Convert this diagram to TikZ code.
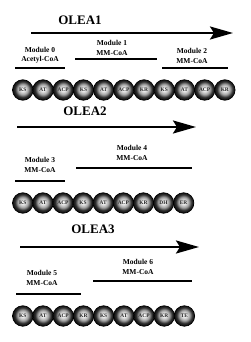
\documentclass[tikz,border=0pt]{standalone}
\usepackage{fontspec}
\setmainfont{Liberation Serif}
\usetikzlibrary{arrows.meta, positioning}

\pgfdeclareradialshading{pkssphere}{\pgfpoint{0bp}{2bp}}{%
  color(0bp)=(white); color(6bp)=(gray!25); color(13bp)=(gray!75);
  color(19bp)=(black!80); color(25bp)=(black!95); color(100bp)=(black)}

\tikzset{
  pksball/.style={circle, shading=pkssphere, draw=black, line width=0.7pt,
    minimum size=20.5pt, inner sep=0pt, text=black!85,
    font=\bfseries\fontsize{5.4}{6}\selectfont},
  protein/.style={font=\bfseries\fontsize{13}{15}\selectfont},
  modlabel/.style={font=\bfseries\fontsize{7.5}{9.5}\selectfont, align=center},
  chainarrow/.style={-{Stealth[length=23pt, width=13pt, inset=4pt]}, line width=2.4pt},
  modline/.style={line width=1.8pt}
}

\begin{document}
\begin{tikzpicture}[x=1pt, y=-1pt]
      \useasboundingbox (0,0) rectangle (250,342);
      % OLEA1
      \node[protein] (olea1) at (80,20) {OLEA1};
      \coordinate (s1) at (31,33);
      \coordinate (e1) at (233,33);
      \draw[chainarrow] (s1) -- (e1);
      \node[modlabel] (m0) at (40,55) {Module 0\\Acetyl-CoA};
      \node[modlabel] (m1) at (112,48) {Module 1\\MM-CoA};
      \node[modlabel] (m2) at (192,56) {Module 2\\MM-CoA};
      \draw[modline] (15,68) -- (65,68);
      \draw[modline] (75,59) -- (157,59);
      \draw[modline] (162,68) -- (228,68);
      \foreach \lbl [count=\i] in {KS,AT,ACP,KS,AT,ACP,KR,KS,AT,ACP,KR}
        \node[pksball] (a\i) at ({22.8+20.2*(\i-1)},90) {\lbl};
      % OLEA2
      \node[protein] (olea2) at (85,111) {OLEA2};
      \coordinate (s2) at (17,127);
      \coordinate (e2) at (196,127);
      \draw[chainarrow] (s2) -- (e2);
      \node[modlabel] (m3) at (40,165) {Module 3\\MM-CoA};
      \node[modlabel] (m4) at (132,153) {Module 4\\MM-CoA};
      \draw[modline] (15,181) -- (65,181);
      \draw[modline] (76,168) -- (192,168);
      \foreach \lbl [count=\i] in {KS,AT,ACP,KS,AT,ACP,KR,DH,ER}
        \node[pksball] (b\i) at ({22.8+20.1*(\i-1)},203) {\lbl};
      % OLEA3
      \node[protein] (olea3) at (93,229) {OLEA3};
      \coordinate (s3) at (20,247);
      \coordinate (e3) at (199,247);
      \draw[chainarrow] (s3) -- (e3);
      \node[modlabel] (m5) at (42,278) {Module 5\\MM-CoA};
      \node[modlabel] (m6) at (138,267) {Module 6\\MM-CoA};
      \draw[modline] (16,294) -- (81,294);
      \draw[modline] (93,281) -- (192,281);
      \foreach \lbl [count=\i] in {KS,AT,ACP,KR,KS,AT,ACP,KR,TE}
        \node[pksball] (c\i) at ({22.8+20.2*(\i-1)},316) {\lbl};
    \end{tikzpicture}
\end{document}
